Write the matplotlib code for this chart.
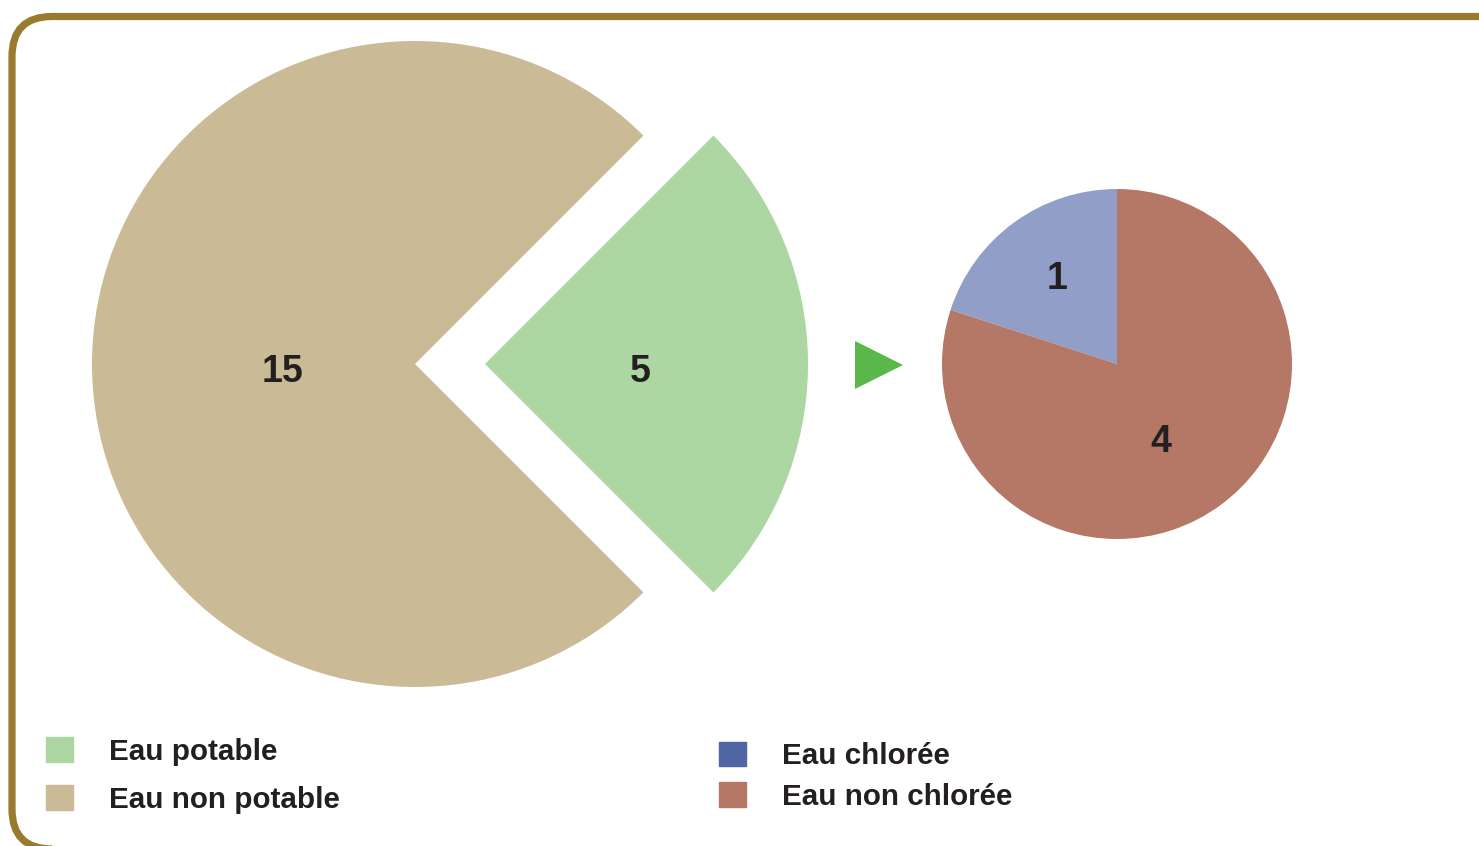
import numpy as np
import matplotlib
matplotlib.use("Agg")
import matplotlib.pyplot as plt
from matplotlib.patches import FancyBboxPatch, Patch

# Data
potable_labels = ["Eau potable", "Eau non potable"]
potable_values = [5, 15]
potable_colors = ["#acd7a2", "#cbba96"]

chlore_labels = ["Eau chlorée", "Eau non chlorée"]
chlore_values = [1, 4]
chlore_colors = ["#919fc8", "#b57866"]
chlore_legend_colors = ["#4f65a4", "#b57866"]

W, H = 1479, 846
plt.rcParams['font.family'] = ['Liberation Sans', 'DejaVu Sans']
plt.rcParams['font.weight'] = 'bold'
TEXT = "#231f20"

fig = plt.figure(figsize=(W / 100, H / 100), dpi=100)
ax = fig.add_axes([0, 0, 1, 1])

# Rounded frame (right and bottom edges run off the picture)
frame = FancyBboxPatch((12, -3), 1600, H - 16.5 + 3,
                       boxstyle="round,pad=0,rounding_size=40",
                       fill=False, edgecolor="#9a7a2f", linewidth=5.2)
ax.add_patch(frame)


def label_wedges(wedges, values, spots):
    # spots: (fraction of radius, angle in degrees) from each wedge's centre
    for w, v, (d, ang) in zip(wedges, values, spots):
        a = np.deg2rad(ang)
        cx, cy = w.center
        ax.text(cx + d * w.r * np.cos(a), cy + d * w.r * np.sin(a), str(v),
                ha="center", va="center", fontsize=27, color=TEXT, fontweight="bold")


# Big pie
w1, _ = ax.pie(potable_values, colors=potable_colors, startangle=-45,
               explode=[70, 0], center=(415, H - 364), radius=323,
               wedgeprops=dict(linewidth=0), frame=True)
label_wedges(w1, potable_values, [(0.48, -3.0), (0.41, 183.4)])

# Arrow between pies
ax.plot(878.5, H - 365, marker=">", markersize=34, color="#5ab749", markeredgewidth=0)

# Small pie
w2, _ = ax.pie(chlore_values, colors=chlore_colors, startangle=90,
               center=(1117, H - 364), radius=175,
               wedgeprops=dict(linewidth=0), frame=True)
label_wedges(w2, chlore_values, [(0.595, 125.2), (0.51, -60.6)])

ax.set_xlim(0, W)
ax.set_ylim(0, H)
ax.set_aspect("equal")
ax.axis("off")

# Legends
leg_kw = dict(frameon=False, fontsize=21.3, handlelength=0.91, handleheight=0.91,
              handletextpad=1.22, borderpad=0, borderaxespad=0, loc="upper left")
h1 = [Patch(color=c, label=l) for c, l in zip(potable_colors, potable_labels)]
leg1 = ax.legend(handles=h1, bbox_to_anchor=(46 / W, 1 - 737 / H),
                 labelspacing=0.66, **leg_kw)
for t in leg1.get_texts():
    t.set_color(TEXT)
ax.add_artist(leg1)
h2 = [Patch(color=c, label=l) for c, l in zip(chlore_legend_colors, chlore_labels)]
leg2 = ax.legend(handles=h2, bbox_to_anchor=(719 / W, 1 - 741.5 / H),
                 labelspacing=0.42, **leg_kw)
for t in leg2.get_texts():
    t.set_color(TEXT)

fig.savefig("out.png", dpi=100)
